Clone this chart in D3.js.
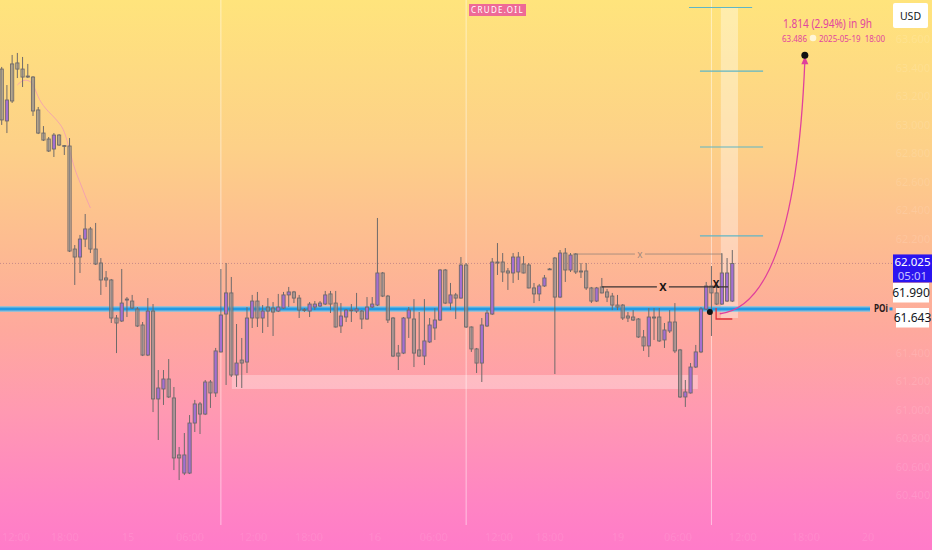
<!DOCTYPE html>
<html><head><meta charset="utf-8">
<script src="https://cdn.jsdelivr.net/npm/d3@7"></script>
<style>html,body{margin:0;padding:0;overflow:hidden;background:#fdc08c}svg{display:block}</style>
</head><body><svg id="c" width="932" height="550"></svg>
<script>
// ---- data (30-min candles, CRUDE.OIL) ----
const opens=[63.389,63.025,63.425,63.432,63.389,63.340,63.333,63.102,62.940,62.898,62.828,62.926,62.852,62.849,62.126,62.070,62.196,62.267,62.126,62.028,61.923,61.909,61.642,61.621,61.768,61.761,61.705,61.593,61.382,61.691,61.074,61.144,61.214,61.081,60.681,60.554,60.554,60.905,61.039,60.968,61.193,61.116,61.404,61.670,61.818,61.242,61.347,61.333,61.642,61.761,61.642,61.719,61.712,61.691,61.712,61.804,61.825,61.782,61.701,61.691,61.719,61.726,61.740,61.811,61.747,61.586,61.649,61.698,61.691,61.691,61.635,61.719,61.733,61.958,61.796,61.642,61.396,61.396,61.642,61.635,61.418,61.375,61.474,61.572,61.628,61.979,61.747,61.804,61.782,62.014,61.579,61.425,61.326,61.586,61.670,62.035,62.035,61.972,61.958,61.965,62.021,62.014,61.853,61.811,61.867,61.986,62.063,61.789,62.098,61.979,62.091,61.972,61.972,61.853,61.761,61.860,61.825,61.796,61.733,61.733,61.656,61.649,61.635,61.509,61.446,61.649,61.649,61.488,61.551,61.614,61.418,61.088,61.116,61.298,61.404,61.705,61.867,61.818,61.740,61.761,61.761];
const highs=[63.404,63.277,63.488,63.502,63.474,63.425,63.340,63.123,62.989,62.912,62.940,62.933,62.856,62.905,62.154,62.225,62.372,62.281,62.309,62.063,61.972,61.916,61.663,61.986,61.789,61.804,61.719,61.614,61.782,61.740,61.277,61.277,61.354,61.158,60.737,60.835,60.961,61.067,61.053,61.207,61.207,61.432,61.986,62.028,61.930,61.600,61.502,61.719,61.804,61.825,61.733,61.782,61.754,61.811,61.825,61.860,61.832,61.804,61.712,61.754,61.761,61.761,61.832,61.832,61.832,61.747,61.705,61.740,61.818,61.698,61.789,61.789,62.344,61.965,61.804,61.649,61.453,61.649,61.719,61.775,61.684,61.775,61.642,61.712,61.986,61.986,61.888,61.818,62.070,62.028,61.583,61.432,61.642,61.698,62.063,62.168,62.098,61.993,62.098,62.105,62.077,62.028,61.888,61.881,61.944,61.993,62.070,62.119,62.133,62.098,62.098,62.028,62.028,61.860,61.860,61.923,61.846,61.818,61.804,61.740,61.684,61.698,61.642,61.558,61.712,61.712,61.712,61.607,61.698,61.747,61.425,61.207,61.326,61.453,61.719,61.895,62.007,61.881,62.098,62.063,62.119];
const lows=[62.997,62.940,63.151,63.326,63.263,63.326,63.060,62.933,62.884,62.807,62.772,62.849,62.786,62.105,61.874,61.958,62.140,62.098,62.014,61.804,61.860,61.607,61.396,61.614,61.649,61.705,61.579,61.375,61.375,60.982,60.786,61.032,61.081,60.575,60.505,60.540,60.547,60.842,60.828,60.961,61.011,61.088,61.400,61.172,61.228,61.158,61.151,61.256,61.572,61.579,61.537,61.579,61.516,61.684,61.705,61.719,61.747,61.642,61.684,61.649,61.698,61.719,61.733,61.677,61.575,61.537,61.614,61.614,61.677,61.565,61.630,61.712,61.726,61.789,61.607,61.368,61.277,61.389,61.502,61.298,61.370,61.312,61.467,61.488,61.621,61.740,61.698,61.635,61.778,61.572,61.404,61.256,61.193,61.579,61.663,61.944,61.895,61.839,61.888,61.909,61.955,61.850,61.747,61.761,61.860,61.979,61.249,61.782,61.895,61.965,61.951,61.923,61.839,61.747,61.754,61.815,61.754,61.698,61.698,61.628,61.614,61.621,61.502,61.411,61.368,61.488,61.474,61.432,61.537,61.396,61.081,61.018,61.112,61.291,61.396,61.698,61.516,61.733,61.733,61.754,61.754];
const closes=[63.032,63.172,63.165,63.389,63.333,63.333,63.095,62.940,62.891,62.814,62.926,62.856,62.849,62.112,62.070,62.196,62.267,62.126,62.021,61.909,61.909,61.642,61.607,61.747,61.775,61.712,61.586,61.382,61.691,61.074,61.151,61.214,61.088,60.660,60.660,60.681,60.905,61.039,60.968,61.193,61.116,61.411,61.663,61.818,61.242,61.326,61.326,61.642,61.761,61.642,61.691,61.691,61.684,61.719,61.804,61.825,61.782,61.698,61.695,61.740,61.740,61.747,61.804,61.740,61.579,61.656,61.698,61.695,61.705,61.635,61.719,61.740,61.958,61.796,61.628,61.375,61.375,61.642,61.698,61.396,61.375,61.481,61.593,61.628,61.979,61.747,61.804,61.782,62.014,61.579,61.425,61.326,61.593,61.677,62.035,62.028,61.965,61.958,62.070,62.070,61.958,61.853,61.811,61.867,61.923,61.983,61.789,62.098,61.979,62.084,61.965,61.965,61.853,61.761,61.853,61.818,61.789,61.733,61.719,61.642,61.642,61.628,61.509,61.446,61.649,61.642,61.481,61.558,61.614,61.411,61.088,61.123,61.298,61.404,61.705,61.867,61.818,61.740,61.958,61.958,62.025];
// faint moving-average line (early part)
const maIndex=[3,4,5,6,7,8,9,10,11,12,13,14,15,16,17];
const maValues=[63.277,63.312,63.312,63.291,63.186,63.130,63.088,63.053,63.011,62.961,62.821,62.681,62.596,62.498,62.414];
const priceTicks=[63.6,63.4,63.2,63.0,62.8,62.6,62.4,62.2,61.4,61.2,61.0,60.8,60.6,60.4];
const timeTickIdx=[1.4,12.1,24.2,36.1,48.2,58.9,71.5,82.8,95.3,105,118.1,129.6,142,154.1,166];
const timeTickLabels=["12:00","18:00","15","06:00","12:00","18:00","16","06:00","12:00","18:00","19","06:00","12:00","18:00","20"];
const sessionBreaks=[42,89,136];
const lastPrice=62.025, countdown="05:01";
const sideLevels=[61.990,61.643];
const poiPrice=61.706;
const targetLevels=[63.821,63.375,62.842,62.218];
const targetStart=[131.7,133.8,133.8,133.8];
const targetEnd=[143.8,145.9,145.9,145.9];
const zoneIdx=[44.1,133.4], zonePrice=[61.242,61.144];
const barIdx=[137.8,141.1], barPrice=[63.821,61.642];
const grayLine={price:62.091,from:109.5,to:138.0,mark:122.3,drop:61.958};
const blackLine={price:61.860,from:115.0,to:139.2,mark1:126.7,mark2:136.9};
const entryDot={i:135.7,p:61.684};
const stopLine={i0:136.9,i1:140.0,pTop:61.712,p:61.635};
const projection={i0:137.6,p0:61.672,ic:152.0,pc:61.733,i1:153.9,p1:63.486};
const projText1="1.814 (2.94%) in 9h", projValue="63.486", projDate="2025-05-19  18:00";

// ---- drawing ----
const W=932,H=550,plotBottom=525,axisX=893;
const FONT="Noto Sans, sans-serif";
const svg=d3.select("#c");
const x=d3.scaleLinear().domain([0,140]).range([1.7,732.3]);
const y=d3.scaleLinear().domain([60.4,63.6]).range([495,39]);

const defs=svg.append("defs");
const g=defs.append("linearGradient").attr("id","bg").attr("x1",0).attr("y1",0).attr("x2",0).attr("y2",1);
[[0,"#ffe47c"],[0.27,"#fdd088"],[0.45,"#fdbb91"],[0.6,"#fea99d"],[0.75,"#ff99b2"],[0.9,"#ff86c2"],[1,"#ff7bc9"]]
 .forEach(s=>g.append("stop").attr("offset",s[0]).attr("stop-color",s[1]));
svg.append("rect").attr("width",W).attr("height",H).attr("fill","url(#bg)");

// session separators
svg.selectAll(".sep").data(sessionBreaks).enter().append("line")
 .attr("x1",d=>x(d)).attr("x2",d=>x(d)).attr("y1",0).attr("y2",plotBottom)
 .attr("stroke","rgba(255,255,255,0.5)").attr("stroke-width",1);

// time labels (faint)
svg.selectAll(".tl").data(timeTickIdx).enter().append("text")
 .attr("x",d=>Math.max(x(d),16)).attr("y",541).attr("text-anchor","middle")
 .attr("font-family",FONT).attr("font-size",11)
 .attr("fill","rgba(255,255,255,0.1)").text((d,i)=>timeTickLabels[i]);

// price labels (faint)
svg.selectAll(".pl").data(priceTicks).enter().append("text")
 .attr("x",913).attr("y",d=>y(d)+4).attr("text-anchor","middle")
 .attr("font-family",FONT).attr("font-size",11)
 .attr("fill","rgba(255,255,255,0.13)").text(d=>d.toFixed(3));

// demand zone
svg.append("rect").attr("x",x(zoneIdx[0])).attr("width",x(zoneIdx[1])-x(zoneIdx[0]))
 .attr("y",y(zonePrice[0])).attr("height",y(zonePrice[1])-y(zonePrice[0]))
 .attr("fill","rgba(255,255,255,0.3)");

// vertical white bar
svg.append("rect").attr("x",x(barIdx[0])).attr("width",x(barIdx[1])-x(barIdx[0]))
 .attr("y",y(barPrice[0])).attr("height",y(barPrice[1])-y(barPrice[0]))
 .attr("fill","rgba(255,255,255,0.36)");

// target lines
svg.selectAll(".tg").data(targetLevels).enter().append("line")
 .attr("x1",(d,i)=>x(targetStart[i])).attr("x2",(d,i)=>x(targetEnd[i]))
 .attr("y1",d=>y(d)).attr("y2",d=>y(d))
 .attr("stroke","#5fb6c6").attr("stroke-width",1.2);

// last price dotted line
svg.append("line").attr("x1",0).attr("x2",axisX).attr("y1",y(lastPrice)).attr("y2",y(lastPrice))
 .attr("stroke","rgba(150,95,125,0.5)").attr("stroke-width",1).attr("stroke-dasharray","1,2");

// MA line
svg.append("path").datum(maIndex.map((d,i)=>[d,maValues[i]]))
 .attr("d",d3.line().x(d=>x(d[0])).y(d=>y(d[1])).curve(d3.curveBasis))
 .attr("fill","none").attr("stroke","rgba(240,150,185,0.75)").attr("stroke-width",1);

// POI line
svg.append("line").attr("x1",0).attr("x2",870).attr("y1",y(poiPrice)).attr("y2",y(poiPrice))
 .attr("stroke","rgba(90,200,245,0.6)").attr("stroke-width",6);
svg.append("line").attr("x1",0).attr("x2",870).attr("y1",y(poiPrice)).attr("y2",y(poiPrice))
 .attr("stroke","#1f9ae6").attr("stroke-width",3);
svg.append("text").attr("x",874).attr("y",y(poiPrice)+3.5).attr("font-family",FONT)
 .attr("font-size",10).attr("font-weight","bold").attr("fill","#2a1a1a")
 .attr("textLength",14).attr("lengthAdjust","spacingAndGlyphs").text("POi");
svg.append("line").attr("x1",889.5).attr("x2",892.5).attr("y1",y(poiPrice)).attr("y2",y(poiPrice))
 .attr("stroke","#1f9ae6").attr("stroke-width",3);

// candles
const idx=d3.range(opens.length);
const cg=svg.append("g");
cg.selectAll(".wk").data(idx).enter().append("line")
 .attr("x1",i=>x(i)).attr("x2",i=>x(i)).attr("y1",i=>y(highs[i])).attr("y2",i=>y(lows[i]))
 .attr("stroke","#6e6a6a").attr("stroke-width",1);
cg.selectAll(".bd").data(idx).enter().append("rect")
 .attr("x",i=>x(i)-1.6).attr("width",3.2)
 .attr("y",i=>y(Math.max(opens[i],closes[i])))
 .attr("height",i=>Math.max(0.8,Math.abs(y(opens[i])-y(closes[i]))))
 .attr("fill",i=>closes[i]>=opens[i]?"#a46fd1":"rgba(160,155,155,0.5)")
 .attr("stroke","#6e6a6a").attr("stroke-width",0.9);

// gray X line
const gy=y(grayLine.price);
svg.append("line").attr("x1",x(grayLine.from)).attr("x2",x(grayLine.mark)-5).attr("y1",gy).attr("y2",gy).attr("stroke","rgba(120,115,115,0.6)");
svg.append("line").attr("x1",x(grayLine.mark)+5).attr("x2",x(grayLine.to)).attr("y1",gy).attr("y2",gy).attr("stroke","rgba(120,115,115,0.6)");
svg.append("line").attr("x1",x(grayLine.to)).attr("x2",x(grayLine.to)).attr("y1",gy).attr("y2",y(grayLine.drop)).attr("stroke","rgba(120,115,115,0.6)");
svg.append("text").attr("x",x(grayLine.mark)).attr("y",gy+3.5).attr("text-anchor","middle")
 .attr("font-family",FONT).attr("font-size",10).attr("fill","rgba(120,115,115,0.7)").text("x");

// black X line
const by=y(blackLine.price);
svg.append("line").attr("x1",x(blackLine.from)).attr("x2",x(blackLine.mark1)-6).attr("y1",by).attr("y2",by).attr("stroke","#3a3232").attr("stroke-width",1.3);
svg.append("line").attr("x1",x(blackLine.mark1)+6).attr("x2",x(blackLine.to)).attr("y1",by).attr("y2",by).attr("stroke","#3a3232").attr("stroke-width",1.3);
svg.append("text").attr("x",x(blackLine.mark1)).attr("y",by+4).attr("text-anchor","middle")
 .attr("font-family",FONT).attr("font-size",11).attr("font-weight","bold").attr("fill","#1a1414").text("X");
svg.append("text").attr("x",x(blackLine.mark2)).attr("y",by+1).attr("text-anchor","middle")
 .attr("font-family",FONT).attr("font-size",10).attr("font-weight","bold").attr("fill","#1a1414").text("X");

// entry dot and stop
svg.append("circle").attr("cx",x(entryDot.i)).attr("cy",y(entryDot.p)).attr("r",3).attr("fill","#111");
svg.append("path").attr("d",`M${x(stopLine.i0)},${y(stopLine.pTop)}V${y(stopLine.p)}H${x(stopLine.i1)}`)
 .attr("fill","none").attr("stroke","#e0303a").attr("stroke-width",1.3);

// projection curve
const pp=d3.path();
pp.moveTo(x(projection.i0),y(projection.p0));
pp.quadraticCurveTo(x(projection.ic),y(projection.pc),x(projection.i1),y(projection.p1)+6);
svg.append("path").attr("d",pp.toString()).attr("fill","none").attr("stroke","#e0409c").attr("stroke-width",1.3);
const ax=x(projection.i1), ay=y(projection.p1);
svg.append("path").attr("d",`M${ax},${ay+1}L${ax-3.5},${ay+9}L${ax+3.5},${ay+9}Z`).attr("fill","#e0409c");
svg.append("circle").attr("cx",ax).attr("cy",ay).attr("r",3.5).attr("fill","#111");
svg.append("text").attr("x",783).attr("y",28).attr("font-family",FONT)
 .attr("font-size",12.5).attr("fill","#e2459f")
 .attr("textLength",89).attr("lengthAdjust","spacingAndGlyphs").text(projText1);
svg.append("text").attr("x",782).attr("y",41.5).attr("font-family",FONT)
 .attr("font-size",9.5).attr("fill","#e2459f")
 .attr("textLength",25).attr("lengthAdjust","spacingAndGlyphs").text(projValue);
svg.append("circle").attr("cx",813).attr("cy",38).attr("r",3.3).attr("fill","rgba(255,255,255,0.7)");
svg.append("text").attr("x",819).attr("y",41.5).attr("font-family",FONT)
 .attr("font-size",9.5).attr("fill","#e2459f").attr("xml:space","preserve")
 .attr("textLength",66).attr("lengthAdjust","spacingAndGlyphs").text(projDate);

// CRUDE.OIL tag
svg.append("rect").attr("x",469).attr("y",4).attr("width",57).attr("height",12).attr("fill","#ee6a96");
svg.append("text").attr("x",497.5).attr("y",13).attr("text-anchor","middle").attr("font-family",FONT)
 .attr("font-size",8).attr("letter-spacing",1.3).attr("fill","#fff").text("CRUDE.OIL");

// right side labels
svg.append("rect").attr("x",893).attr("y",3).attr("width",35).attr("height",25).attr("rx",2).attr("fill","#fff");
svg.append("text").attr("x",910.5).attr("y",19.5).attr("text-anchor","middle").attr("font-family",FONT)
 .attr("font-size",10.5).attr("fill","#131722").text("USD");

svg.append("rect").attr("x",893).attr("y",y(lastPrice)-9).attr("width",39).attr("height",28).attr("fill","#2b14f0");
svg.append("text").attr("x",912.5).attr("y",y(lastPrice)+2.5).attr("text-anchor","middle").attr("font-family",FONT)
 .attr("font-size",11.5).attr("fill","#fff").text(lastPrice.toFixed(3));
svg.append("text").attr("x",912.5).attr("y",y(lastPrice)+16.5).attr("text-anchor","middle").attr("font-family",FONT)
 .attr("font-size",11.5).attr("fill","#c9c2ff").text(countdown);

const boxY=[283,308], boxX=[893,896];
sideLevels.forEach((v,i)=>{
 svg.append("rect").attr("x",boxX[i]).attr("y",boxY[i]).attr("width",36-(boxX[i]-893)).attr("height",19.5).attr("fill","#fff");
 svg.append("text").attr("x",boxX[i]+(36-(boxX[i]-893))/2).attr("y",boxY[i]+14).attr("text-anchor","middle")
  .attr("font-family",FONT).attr("font-size",12).attr("fill","#131722").text(v.toFixed(3));
});
</script></body></html>
